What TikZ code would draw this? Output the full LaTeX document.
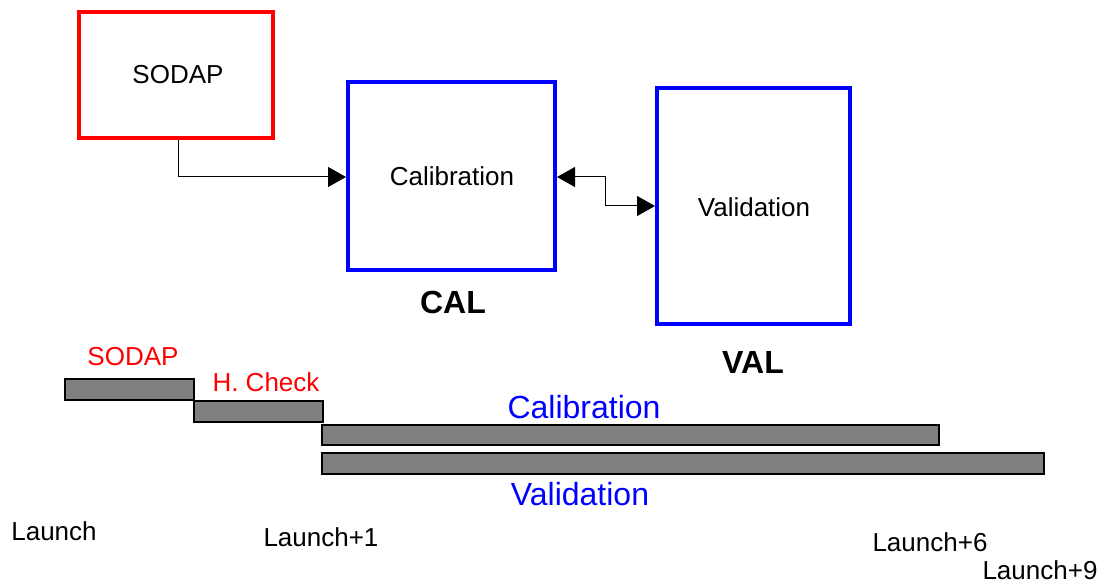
\documentclass[tikz,border=0pt]{standalone}
\usepackage{fontspec}
\setmainfont{Liberation Sans}
\usetikzlibrary{arrows.meta}
\begin{document}
\begin{tikzpicture}[x=1pt,y=-1pt,
  redbox/.style={draw=red,line width=4pt},
  bluebox/.style={draw=blue,line width=4pt},
  bar/.style={draw=black,fill=gray,line width=1.4pt},
  lbl/.style={inner sep=0pt,font=\fontsize{26}{30}\selectfont},
  biglbl/.style={inner sep=0pt,font=\fontsize{32}{36}\selectfont},
  tip/.style={-{Triangle[length=18pt,width=20pt]},line width=1pt},
  ]
\useasboundingbox (0,0) rectangle (1100,585);
% process boxes
\draw[redbox] (79,12) rectangle (273,138);
\draw[bluebox] (348,82) rectangle (555,270);
\draw[bluebox] (657,88) rectangle (850,324);
\node[lbl] (sodap) at (178,75) {SODAP};
\node[lbl] (cal) at (452,176) {Calibration};
\node[lbl] (val) at (754,207) {Validation};
\node[biglbl,font=\fontsize{32}{36}\selectfont\bfseries] (calname) at (453,302) {CAL};
\node[biglbl,font=\fontsize{32}{36}\selectfont\bfseries] (valname) at (753,362) {VAL};
\coordinate (sodapout) at (178,140);
\coordinate (calin) at (346,177);
\coordinate (calout) at (557,177);
\coordinate (valin) at (655,206);
\draw[tip] (sodapout) |- (calin);
\draw[tip,{Triangle[length=18pt,width=20pt]}-{Triangle[length=18pt,width=20pt]}] (calout) -- (605,177) -- (605,206) -- (valin);
% schedule bars
\draw[bar] (65,379) rectangle (194,400);
\draw[bar] (194,401) rectangle (323,422);
\draw[bar] (322,425) rectangle (939,445);
\draw[bar] (322,453) rectangle (1044,474);
\node[lbl,text=red] (sodapbar) at (133,357) {SODAP};
\node[lbl,text=red] (hcheck) at (266,382) {H. Check};
\node[biglbl,text=blue] (calbar) at (584,407) {Calibration};
\node[biglbl,text=blue] (valbar) at (580,494) {Validation};
% time marks
\node[lbl] (l0) at (54,531) {Launch};
\node[lbl] (l1) at (321,537) {Launch+1};
\node[lbl] (l6) at (930,542) {Launch+6};
\node[lbl] (l9) at (1040,570) {Launch+9};
\end{tikzpicture}
\end{document}
